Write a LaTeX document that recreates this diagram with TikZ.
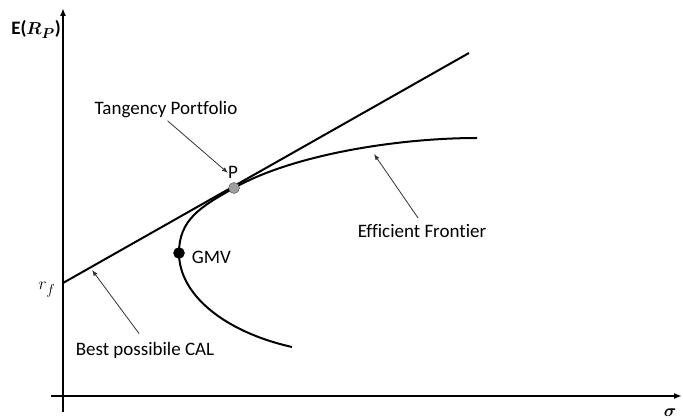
\documentclass[tikz,border=0pt]{standalone}
\usepackage{amsmath}
\usepackage{bm}
\usepackage{fontspec}
\setmainfont[Ligatures=NoCommon]{Carlito}
\usetikzlibrary{arrows.meta, positioning}

\begin{document}
\begin{tikzpicture}[
    x=1pt, y=-1pt,
    axis/.style={-{Latex[length=8pt,width=6pt]}, line width=1.8pt},
    curve/.style={line width=2pt},
    pointer/.style={-{Latex[length=6pt,width=4.5pt]}, black!80, line width=0.8pt},
    lbl/.style={font=\fontsize{19}{22}\selectfont, inner sep=1pt},
    dot/.style={circle, draw=black, inner sep=0pt, minimum size=11pt}
  ]
  \useasboundingbox (0,0) rectangle (683,419);

  % Axes
  \coordinate (ybot) at (63,412);
  \coordinate (ytop) at (63,8);
  \coordinate (xleft) at (51,396);
  \coordinate (xright) at (682,396);
  \draw[axis] (ybot) -- (ytop);
  \draw[axis] (xleft) -- (xright);
  \node[lbl, anchor=base] (ylbl) at (36,35) {\textbf{E(}$\bm{R_P}$\textbf{)}};
  \node[lbl, anchor=base] (xlbl) at (670,417) {$\bm{\sigma}$};
  \node[lbl, anchor=base] (rflbl) at (47,290) {$r_f$};

  % Capital allocation line
  \coordinate (rf) at (63,283);
  \coordinate (calend) at (469,53);
  \draw[curve] (rf) -- (calend);

  % Efficient frontier
  \coordinate (flow) at (292,347);
  \coordinate (gmvpt) at (179,253);
  \coordinate (tppt) at (234,188);
  \coordinate (fhigh) at (477,138);
  \draw[curve] (flow) .. controls (225,332) and (179,295) .. (gmvpt)
    .. controls (179,220) and (200,207) .. (tppt)
    .. controls (294,154) and (400,138) .. (fhigh);

  \node[dot, fill=black] (gmv) at (gmvpt) {};
  \node[dot, draw=black!70, fill=gray!75] (tp) at (tppt) {};
  \node[lbl, right=6pt of gmv, yshift=-4pt] (gmvlbl) {GMV};
  \node[lbl, above=3pt of tp, xshift=-1pt] (plbl) {P};

  % Labels with pointers
  \coordinate (tanpt) at (228,173);
  \coordinate (effpt) at (374,154);
  \coordinate (calpt) at (92,270);
  \node[lbl, anchor=base] (tanlbl) at (166,115) {Tangency Portfolio};
  \node[lbl, anchor=base] (efflbl) at (422,238) {Efficient Frontier};
  \node[lbl, anchor=base] (callbl) at (145,356) {Best possibile CAL};
  \draw[pointer, shorten <=2pt] (tanlbl.south) -- (tanpt);
  \draw[pointer, shorten <=7pt] (efflbl.north) -- (effpt);
  \draw[pointer, shorten <=10pt] (callbl.north) -- (calpt);

\end{tikzpicture}
\end{document}
